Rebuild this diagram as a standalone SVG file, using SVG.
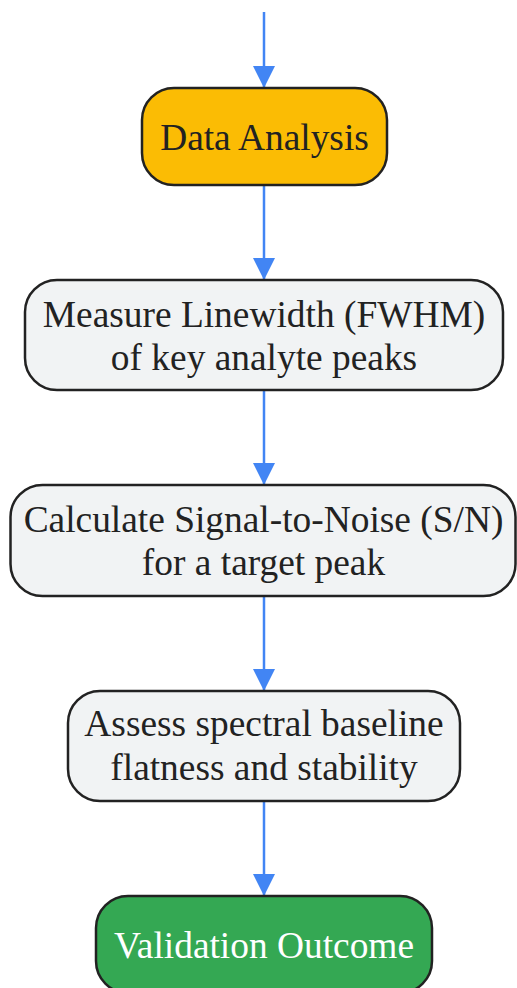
<svg xmlns="http://www.w3.org/2000/svg" width="517" height="988" viewBox="0 0 517 988">
<defs>
<marker id="ah" markerUnits="userSpaceOnUse" markerWidth="22" markerHeight="32" refX="22" refY="11" orient="auto" viewBox="0 0 22 22"><path d="M0,0 L22,11 L0,22 z" fill="#4285F4"/></marker>
<style>
.n{stroke:#222;stroke-width:2.5}
.g{fill:#F1F3F4}
.t{font-family:"Liberation Serif","Times New Roman",serif;font-size:37.4px;fill:#222;text-anchor:middle}
.e{stroke:#4285F4;stroke-width:2.5;fill:none}
</style>
</defs>
<rect width="517" height="988" fill="#fff"/>
<g id="connectors">
<path class="e" d="M264,12 V88" marker-end="url(#ah)"/>
<path class="e" d="M264,185 V280" marker-end="url(#ah)"/>
<path class="e" d="M264,390 V485" marker-end="url(#ah)"/>
<path class="e" d="M264,596 V691" marker-end="url(#ah)"/>
<path class="e" d="M264,801 V896" marker-end="url(#ah)"/>
</g>
<g id="data-analysis">
<rect class="n" x="142" y="88" width="245" height="97" rx="32" fill="#FBBC04"/>
<text class="t" x="264.5" y="150">Data Analysis</text>
</g>
<g id="measure-linewidth">
<rect class="n g" x="25" y="280" width="478" height="110" rx="32"/>
<text class="t" x="264" y="327">Measure Linewidth (FWHM)</text>
<text class="t" x="264" y="370">of key analyte peaks</text>
</g>
<g id="calculate-sn">
<rect class="n g" x="10.5" y="485" width="505" height="111" rx="32"/>
<text class="t" x="263.5" y="532">Calculate Signal-to-Noise (S/N)</text>
<text class="t" x="263.5" y="575">for a target peak</text>
</g>
<g id="assess-baseline">
<rect class="n g" x="68" y="691" width="392" height="110" rx="32"/>
<text class="t" x="264" y="736">Assess spectral baseline</text>
<text class="t" x="264" y="780">flatness and stability</text>
</g>
<g id="validation-outcome">
<rect class="n" x="96" y="896" width="336" height="97" rx="32" fill="#34A853"/>
<text class="t" x="264" y="958" style="fill:#fff">Validation Outcome</text>
</g>
</svg>
